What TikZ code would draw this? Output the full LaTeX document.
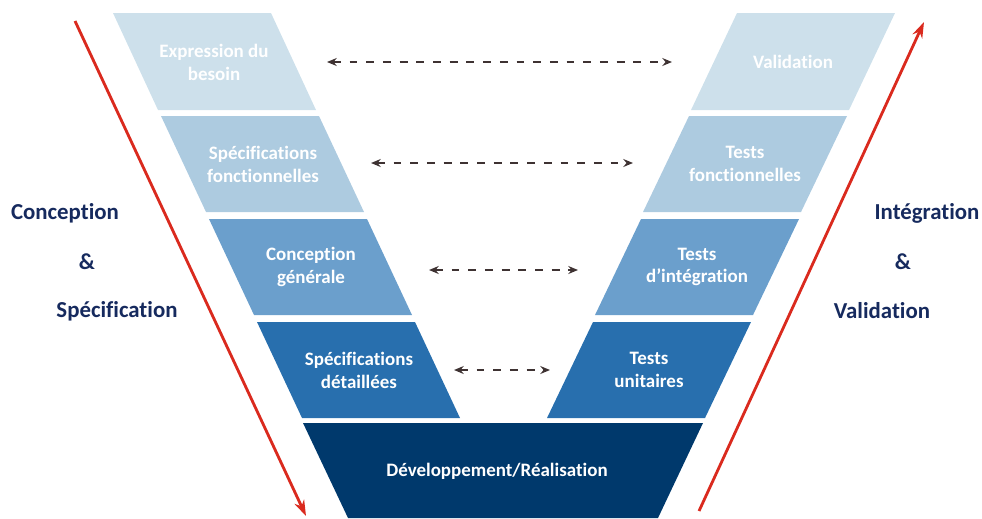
\documentclass[tikz,border=0pt]{standalone}
\usepackage{fontspec}
\setmainfont{Carlito}[Ligatures=NoCommon]
\usetikzlibrary{arrows.meta}
\definecolor{rowA}{RGB}{205,224,235}
\definecolor{rowB}{RGB}{173,203,224}
\definecolor{rowC}{RGB}{107,159,204}
\definecolor{rowD}{RGB}{40,111,174}
\definecolor{rowE}{RGB}{0,57,108}
\definecolor{navy}{RGB}{22,42,94}
\definecolor{vred}{RGB}{218,42,30}
\definecolor{dgray}{RGB}{62,50,50}
\tikzset{
  boxtext/.style={text=white, align=center, font=\bfseries\fontsize{10.8}{13}\selectfont},
  sidetext/.style={text=navy, font=\bfseries\fontsize{13}{15}\selectfont},
  linkarrow/.style={draw=dgray, line width=1.3pt, dash pattern=on 4.5pt off 5pt, {Stealth[length=5.5pt,width=4.5pt]}-{Stealth[length=5.5pt,width=4.5pt]}},
  bigarrow/.style={draw=vred, line width=1.6pt, -{Stealth[length=9pt,width=6pt]}}
}
\begin{document}
\begin{tikzpicture}[x=0.02cm,y=-0.02cm]
\useasboundingbox (0,0) rectangle (982,518);
% left parallelograms
\fill[rowA] (113,13) -- (271,13) -- (316,110) -- (158,110) -- cycle;
\fill[rowB] (161,116) -- (319,116) -- (364,212) -- (206,212) -- cycle;
\fill[rowC] (209,219) -- (367,219) -- (412,315) -- (254,315) -- cycle;
\fill[rowD] (257,322) -- (415,322) -- (460,418) -- (302,418) -- cycle;
% right parallelograms
\fill[rowA] (737,13) -- (895,13) -- (849,110) -- (691,110) -- cycle;
\fill[rowB] (689,116) -- (847,116) -- (801,212) -- (643,212) -- cycle;
\fill[rowC] (641,219) -- (799,219) -- (753,315) -- (595,315) -- cycle;
\fill[rowD] (593,322) -- (751,322) -- (705,418) -- (547,418) -- cycle;
% bottom trapezoid
\fill[rowE] (303,423) -- (703,423) -- (658,518) -- (348,518) -- cycle;
% texts
\node[boxtext] (l1) at (214,62) {Expression du\\besoin};
\node[boxtext] (l2) at (263,164) {Spécifications\\fonctionnelles};
\node[boxtext] (l3) at (311,267) {Conception\\générale};
\node[boxtext] (l4) at (359,370) {Spécifications\\détaillées};
\node[boxtext] (r1) at (793,62) {Validation};
\node[boxtext] (r2) at (745,164) {Tests\\fonctionnelles};
\node[boxtext] (r3) at (697,267) {Tests\\d’intégration};
\node[boxtext] (r4) at (649,370) {Tests\\unitaires};
\node[boxtext] (dev) at (497,471) {Développement/Réalisation};
% side labels
\node[sidetext] (cs1) at (65,213) {Conception};
\node[sidetext] (cs2) at (87,262) {\&};
\node[sidetext] (cs3) at (117,311) {Spécification};
\node[sidetext] (iv1) at (927,213) {Intégration};
\node[sidetext] (iv2) at (903,262) {\&};
\node[sidetext] (iv3) at (882,311) {Validation};
% dashed link arrows
\coordinate (a1) at (327,62);  \coordinate (b1) at (672,62);
\coordinate (a2) at (371,163); \coordinate (b2) at (633,163);
\coordinate (a3) at (429,270); \coordinate (b3) at (578,270);
\coordinate (a4) at (454,370); \coordinate (b4) at (550,370);
\draw[linkarrow] (a1) -- (b1);
\draw[linkarrow] (a2) -- (b2);
\draw[linkarrow] (a3) -- (b3);
\draw[linkarrow] (a4) -- (b4);
% red arrows
\coordinate (ls) at (75,21);  \coordinate (le) at (306,516);
\coordinate (rs) at (699,511); \coordinate (re) at (924,22);
\draw[bigarrow] (ls) -- (le);
\draw[bigarrow] (rs) -- (re);
\end{tikzpicture}
\end{document}
